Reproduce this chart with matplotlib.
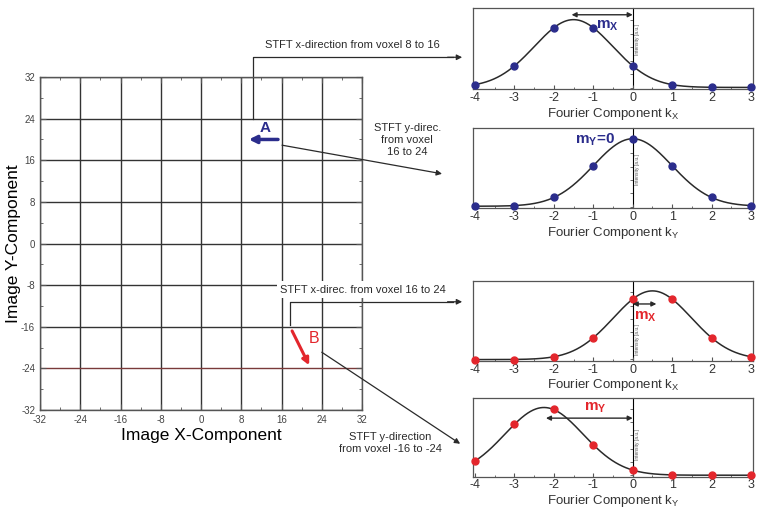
import numpy as np
import matplotlib.pyplot as plt
from matplotlib.ticker import MultipleLocator, NullFormatter

plt.rcParams['font.family'] = ['Liberation Sans', 'DejaVu Sans']
plt.rcParams['mathtext.fontset'] = 'custom'
plt.rcParams['mathtext.rm'] = 'Liberation Sans'
plt.rcParams['mathtext.bf'] = 'Liberation Sans:bold'
plt.rcParams['mathtext.it'] = 'Liberation Sans:italic'
plt.rcParams['axes.unicode_minus'] = False

# Fourier components and measured (normalised) intensities
k = np.array([-4, -3, -2, -1, 0, 1, 2, 3])
a_kx = [0.06, 0.29, 0.76, 0.76, 0.29, 0.06, 0.025, 0.025]
a_ky = [0.03, 0.03, 0.14, 0.53, 0.87, 0.53, 0.14, 0.03]
b_kx = [0.017, 0.017, 0.05, 0.29, 0.77, 0.77, 0.29, 0.05]
b_ky = [0.20, 0.66, 0.85, 0.40, 0.084, 0.02, 0.02, 0.02]

# direction arrows in the image (start, end)
arrow_a = [(15.3, 20.0), (9.5, 20.0)]
arrow_b = [(18.1, -16.8), (21.5, -23.4)]

# shift m of each spectrum (double arrow from m to 0)
m_shift = [-1.55, None, 0.6, -2.2]

blue = '#2b2d8c'
red = '#e3262c'
dark = '#2a2a2a'


def gauss_fit(x, y):
    # least squares gaussian + offset, brute force over centre and width
    y = np.asarray(y, dtype=float)
    mu = np.linspace(-4, 3, 701)[:, None, None]
    sig = np.linspace(0.4, 2.5, 211)[None, :, None]
    g = np.exp(-(x - mu) ** 2 / (2 * sig ** 2))
    gm = g.mean(-1, keepdims=True)
    ym = y.mean()
    A = ((g - gm) * (y - ym)).sum(-1, keepdims=True) / ((g - gm) ** 2).sum(-1, keepdims=True)
    c = ym - A * gm
    res = ((A * g + c - y) ** 2).sum(-1)
    i, j = np.unravel_index(res.argmin(), res.shape)
    return mu[i, 0, 0], sig[0, j, 0], A[i, j, 0], c[i, j, 0]


fig = plt.figure(figsize=(7.62, 5.17), dpi=100)

# ---- main image grid ----
ax = fig.add_axes([0.0525, 0.207, 0.4226, 0.644])
ax.set_xlim(-32, 32)
ax.set_ylim(-32, 32)
ticks = np.arange(-32, 33, 8)
ax.set_xticks(ticks)
ax.set_yticks(ticks)
ax.xaxis.set_minor_locator(MultipleLocator(4))
ax.yaxis.set_minor_locator(MultipleLocator(4))
ax.tick_params(which='both', direction='in', top=True, right=True,
               labelsize=7, labelcolor='#444444', color='#555555')
ax.tick_params(which='major', length=4)
ax.tick_params(which='minor', length=2.5)
ax.grid(True, which='major', color='#333333', lw=1.0)
ax.get_ygridlines()[1].set_color('#7a3a3a')
for s in ax.spines.values():
    s.set_color('#555555')
    s.set_linewidth(1.0)
ax.set_xlabel('Image X-Component', fontsize=12.5, labelpad=2)
ax.set_ylabel('Image Y-Component', fontsize=12.5, labelpad=0)

arr = dict(arrowstyle='-|>', color=dark, lw=0.9, mutation_scale=8, shrinkA=0, shrinkB=0)

# A
ax.annotate('', xy=arrow_a[1], xytext=arrow_a[0],
            arrowprops=dict(arrowstyle='-|>', color=blue, lw=2.5, mutation_scale=11,
                            shrinkA=0, shrinkB=0))
ax.text(12.7, 22.2, 'A', color=blue, fontsize=11, fontweight='bold', ha='center', va='center')
ax.plot([10.3, 10.3, 50], [24, 35.8, 35.8], color=dark, lw=0.9, clip_on=False)
ax.annotate('', xy=(51.9, 35.8), xytext=(49, 35.8), arrowprops=arr, annotation_clip=False)
ax.text(12.7, 38.2, 'STFT x-direction from voxel 8 to 16', fontsize=8, color=dark,
        ha='left', va='center', clip_on=False)
ax.annotate('', xy=(47.9, 13.4), xytext=(16.1, 18.9), arrowprops=arr, annotation_clip=False)
ax.text(41.0, 19.9, 'STFT y-direc.\nfrom voxel\n16 to 24', fontsize=8, color=dark,
        ha='center', va='center', linespacing=1.25, clip_on=False)

# B
ax.annotate('', xy=arrow_b[1], xytext=arrow_b[0],
            arrowprops=dict(arrowstyle='-|>', color=red, lw=2.2, mutation_scale=10,
                            shrinkA=0, shrinkB=0))
ax.text(22.4, -18.3, 'B', color=red, fontsize=11.5, ha='center', va='center')
ax.text(15.7, -8.9, 'STFT x-direc. from voxel 16 to 24', fontsize=8, color=dark,
        ha='left', va='center', zorder=6, clip_on=False,
        bbox=dict(fc='white', ec='none', pad=2.5))
ax.plot([17.7, 17.7, 50], [-15.7, -11.2, -11.2], color=dark, lw=0.9, clip_on=False)
ax.annotate('', xy=(51.9, -11.2), xytext=(49, -11.2), arrowprops=arr, annotation_clip=False)
ax.annotate('', xy=(51.5, -38.5), xytext=(24.0, -20.9), arrowprops=arr, annotation_clip=False)
ax.text(37.6, -38.4, 'STFT y-direction\nfrom voxel -16 to -24', fontsize=8, color=dark,
        ha='center', va='center', linespacing=1.3, clip_on=False)

# ---- spectra ----
panels = [
    ([0.6207, 0.827, 0.3675, 0.157], a_kx, blue, 'X', r'$\mathbf{m_X}$', (-0.65, 0.79), 0.92, 0.61),
    ([0.6207, 0.597, 0.3675, 0.155], a_ky, blue, 'Y', r'$\mathbf{m_Y}$=0', (-0.95, 0.85), None, 0.48),
    ([0.6207, 0.302, 0.3675, 0.155], b_kx, red, 'X', r'$\mathbf{m_X}$', (0.32, 0.55), 0.71, 0.26),
    ([0.6207, 0.078, 0.3675, 0.153], b_ky, red, 'Y', r'$\mathbf{m_Y}$', (-0.95, 0.87), 0.74, 0.40),
]
xlo, xhi = -4.05, 3.05
xs = np.linspace(xlo, xhi, 400)
for (pos, vals, col, sub, mlab, mpos, arr_y, int_y), m in zip(panels, m_shift):
    p = fig.add_axes(pos)
    mu, sig, A, c = gauss_fit(k, vals)
    p.plot(xs, A * np.exp(-(xs - mu) ** 2 / (2 * sig ** 2)) + c, color=dark, lw=1.1, zorder=2)
    p.plot(k, vals, 'o', color=col, ms=5, zorder=3, clip_on=False)
    p.set_xlim(xlo, xhi)
    p.set_ylim(0, 1)
    p.set_xticks(k)
    p.xaxis.set_minor_locator(MultipleLocator(0.5))
    p.set_yticks([])
    p.tick_params(axis='x', which='both', direction='in', labelsize=9, pad=2,
                  labelcolor='#333333', color='#555555')
    p.tick_params(axis='x', which='major', length=3)
    p.tick_params(axis='x', which='minor', length=1.8)
    for s in p.spines.values():
        s.set_color('#555555')
        s.set_linewidth(0.9)
    p.set_xlabel('Fourier Component k$_\\mathrm{%s}$' % sub, fontsize=9.5, labelpad=1, color='#333333')
    sec = p.secondary_yaxis((0 - xlo) / (xhi - xlo))
    sec.set_yticks(np.arange(0.02, 0.9, 0.167))
    sec.yaxis.set_major_formatter(NullFormatter())
    sec.tick_params(direction='in', length=2, width=0.6, color='#555555')
    sec.spines['left'].set_color('#333333')
    sec.spines['left'].set_linewidth(0.9)
    p.text(0.13, int_y, 'Intensity [a.u.]', rotation=90, fontsize=3.5, color='#555555',
           ha='center', va='center')
    p.text(mpos[0], mpos[1], mlab, color=col, fontsize=11, fontweight='bold',
           ha='center', va='center')
    if m is not None:
        p.annotate('', xy=(m, arr_y), xytext=(0, arr_y),
                   arrowprops=dict(arrowstyle='<|-|>', color=dark, lw=1.0, mutation_scale=7,
                                   shrinkA=0, shrinkB=0))

fig.savefig('out.png', dpi=100)
